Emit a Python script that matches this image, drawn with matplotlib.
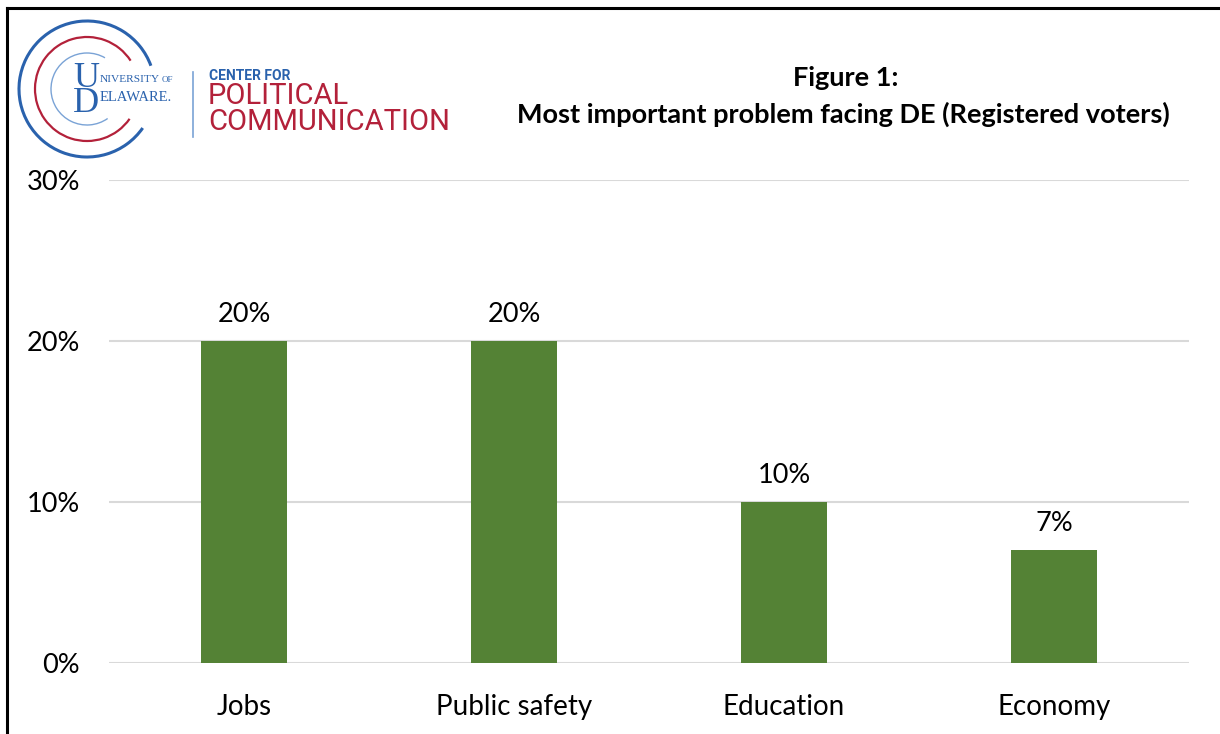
import matplotlib
matplotlib.use("Agg")
from matplotlib import pyplot as plt
from matplotlib.patches import Arc
from matplotlib.lines import Line2D

# chart data
categories = ["Jobs", "Public safety", "Education", "Economy"]
values = [20, 20, 10, 7]
y_ticks = [0, 10, 20, 30]
y_tick_labels = ["0%", "10%", "20%", "30%"]
title_lines = ["Figure 1:", "Most important problem facing DE (Registered voters)"]

W, H = 1220, 734
BAR_GREEN = "#548235"
GRID_GRAY = "#d9d9d9"
UD_BLUE = "#2a62ad"
UD_LIGHT = "#7aa3d6"
UD_RED = "#b3213a"

plt.rcParams["font.family"] = ["Lato", "DejaVu Sans"]

fig = plt.figure(figsize=(W / 100, H / 100), dpi=100)


def fx(px):
    return px / W


def fy(py):
    return 1 - py / H


# main bar chart
ax = fig.add_axes([fx(109), fy(663), fx(1189) - fx(109), fy(180) - fy(663)])
x = list(range(len(categories)))
ax.bar(x, values, width=0.315, color=BAR_GREEN, zorder=3)
ax.set_xlim(-0.5, len(categories) - 0.5)
ax.set_ylim(0, 30)
ax.set_yticks(y_ticks)
ax.set_yticklabels(y_tick_labels)
ax.set_xticks(x)
ax.set_xticklabels(categories)
ax.tick_params(axis="y", length=0, pad=21, labelsize=19.5)
ax.tick_params(axis="x", length=0, pad=22, labelsize=20)
ax.grid(axis="y", color=GRID_GRAY, linewidth=1.5, zorder=0)
for s in ax.spines.values():
    s.set_visible(False)

for xi, v in zip(x, values):
    ax.annotate(f"{v}%", (xi, v), xytext=(0, 10), textcoords="offset points",
                ha="center", va="bottom", fontsize=19.5)

# overlay in pixel coordinates for the logo, title and border
ov = fig.add_axes([0, 0, 1, 1], zorder=-1)
ov.set_xlim(0, W)
ov.set_ylim(0, H)
ov.axis("off")


def Y(py):
    return H - py


# logo rings
cx, cy = 87, 89
ov.add_patch(Arc((cx, Y(cy)), 136, 136, theta1=20, theta2=325, color=UD_BLUE, lw=2.2))
ov.add_patch(Arc((cx, Y(cy)), 104, 104, theta1=33, theta2=325, color=UD_RED, lw=1.6))
ov.add_patch(Arc((cx, Y(cy)), 72, 72, theta1=60, theta2=305, color=UD_LIGHT, lw=1.0))

# UD monogram (one text so the letters stack)
ov.text(86, Y(91), "U\nD", family="Liberation Serif", fontsize=26, color=UD_BLUE,
        ha="center", va="center", linespacing=0.7)
ov.text(100, Y(82), "NIVERSITY", family="Liberation Serif", fontsize=8.2,
        color=UD_BLUE, ha="left", va="baseline")
ov.text(162, Y(82), "OF", family="Liberation Serif", fontsize=6.5, color=UD_BLUE,
        ha="left", va="baseline")
ov.text(100, Y(101), "ELAWARE.", family="Liberation Serif", fontsize=10.5,
        color=UD_BLUE, ha="left", va="baseline")

# divider and center name
ov.add_line(Line2D([193, 193], [Y(72), Y(137)], color=UD_LIGHT, lw=1.2))
ov.text(209, Y(80), "CENTER FOR", family="Roboto", weight="bold", fontsize=10,
        color=UD_BLUE, ha="left", va="baseline")
ov.text(208, Y(104), "POLITICAL", family="Roboto", fontsize=21, color=UD_RED,
        ha="left", va="baseline")
ov.text(208, Y(130), "COMMUNICATION", family="Roboto", fontsize=21, color=UD_RED,
        ha="left", va="baseline")

# title
ov.text(846, Y(78), title_lines[0], fontsize=19.5, weight="bold", ha="center", va="center")
ov.text(843, Y(114), title_lines[1], fontsize=19.5, weight="bold", ha="center", va="center")

# frame lines at left and top
ov.add_line(Line2D([7, 7], [Y(8), 0], color="black", lw=2.2))
ov.add_line(Line2D([7, W], [Y(8), Y(8)], color="black", lw=2.2))

fig.savefig("out.png", dpi=100)
